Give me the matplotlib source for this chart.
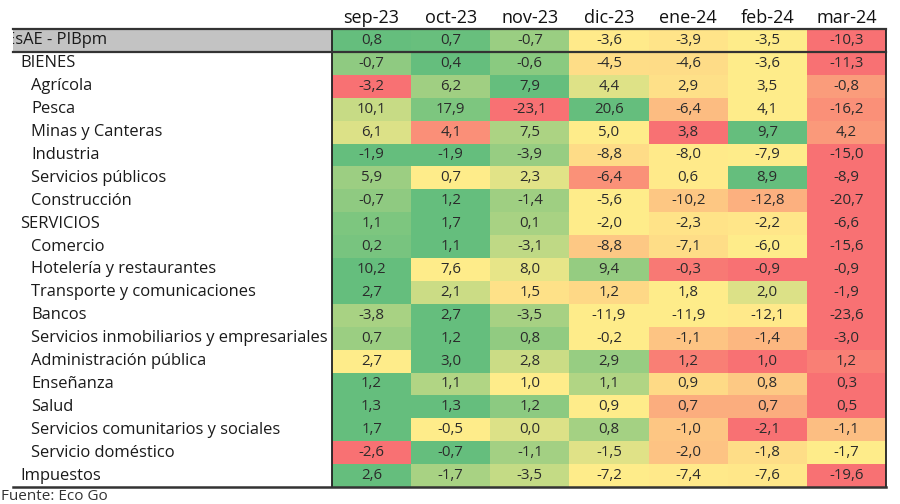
import numpy as np
import matplotlib
matplotlib.use("Agg")
import matplotlib.pyplot as plt
from matplotlib.colors import LinearSegmentedColormap
from matplotlib.patches import Rectangle
from matplotlib.transforms import blended_transform_factory

columns = ["sep-23", "oct-23", "nov-23", "dic-23", "ene-24", "feb-24", "mar-24"]

row_labels = [
    "EsAE - PIBpm", "BIENES", "Agrícola", "Pesca", "Minas y Canteras", "Industria",
    "Servicios públicos", "Construcción", "SERVICIOS", "Comercio",
    "Hotelería y restaurantes", "Transporte y comunicaciones", "Bancos",
    "Servicios inmobiliarios y empresariales", "Administración pública",
    "Enseñanza", "Salud", "Servicios comunitarios y sociales",
    "Servicio doméstico", "Impuestos",
]
row_level = [0, 1, 2, 2, 2, 2, 2, 2, 1, 2, 2, 2, 2, 2, 2, 2, 2, 2, 2, 1]

values = [
    [0.8, 0.7, -0.7, -3.6, -3.9, -3.5, -10.3],
    [-0.7, 0.4, -0.6, -4.5, -4.6, -3.6, -11.3],
    [-3.2, 6.2, 7.9, 4.4, 2.9, 3.5, -0.8],
    [10.1, 17.9, -23.1, 20.6, -6.4, 4.1, -16.2],
    [6.1, 4.1, 7.5, 5.0, 3.8, 9.7, 4.2],
    [-1.9, -1.9, -3.9, -8.8, -8.0, -7.9, -15.0],
    [5.9, 0.7, 2.3, -6.4, 0.6, 8.9, -8.9],
    [-0.7, 1.2, -1.4, -5.6, -10.2, -12.8, -20.7],
    [1.1, 1.7, 0.1, -2.0, -2.3, -2.2, -6.6],
    [0.2, 1.1, -3.1, -8.8, -7.1, -6.0, -15.6],
    [10.2, 7.6, 8.0, 9.4, -0.3, -0.9, -0.9],
    [2.7, 2.1, 1.5, 1.2, 1.8, 2.0, -1.9],
    [-3.8, 2.7, -3.5, -11.9, -11.9, -12.1, -23.6],
    [0.7, 1.2, 0.8, -0.2, -1.1, -1.4, -3.0],
    [2.7, 3.0, 2.8, 2.9, 1.2, 1.0, 1.2],
    [1.2, 1.1, 1.0, 1.1, 0.9, 0.8, 0.3],
    [1.3, 1.3, 1.2, 0.9, 0.7, 0.7, 0.5],
    [1.7, -0.5, 0.0, 0.8, -1.0, -2.1, -1.1],
    [-2.6, -0.7, -1.1, -1.5, -2.0, -1.8, -1.7],
    [2.6, -1.7, -3.5, -7.2, -7.4, -7.6, -19.6],
]

source = "Fuente: Eco Go"

FONT = ["Open Sans", "DejaVu Sans"]
plt.rcParams["font.family"] = FONT
TXT = "#2b2b2b"

data = np.array(values, dtype=float)
nrows, ncols = data.shape

# Excel-like 3-colour scale per row (min -> median -> max)
norm = np.zeros_like(data)
for i, r in enumerate(data):
    lo, mid, hi = r.min(), np.percentile(r, 50), r.max()
    for j, v in enumerate(r):
        if v <= mid:
            norm[i, j] = 0.5 * (v - lo) / (mid - lo) if mid > lo else 0.5
        else:
            norm[i, j] = 0.5 + 0.5 * (v - mid) / (hi - mid) if hi > mid else 0.5
cmap = LinearSegmentedColormap.from_list("ryg", ["#F8696B", "#FFEB84", "#5DBB76"])

W, H = 900, 504
fig = plt.figure(figsize=(9, 5.04), dpi=100)
x0, x1 = 332, 886
y0, y1 = 29, 487
ax = fig.add_axes([x0 / W, 1 - y1 / H, (x1 - x0) / W, (y1 - y0) / H])
ax.pcolormesh(np.arange(ncols + 1), np.arange(nrows + 1), norm, cmap=cmap,
              vmin=0, vmax=1, shading="flat", alpha=0.95)
ax.set_xlim(0, ncols)
ax.set_ylim(nrows, 0)
ax.set_xticks([])
ax.set_yticks([])
for s in ["top", "bottom"]:
    ax.spines[s].set_visible(False)
for s in ["left", "right"]:
    ax.spines[s].set_linewidth(1.3)
    ax.spines[s].set_color("#222222")

for i in range(nrows):
    for j in range(ncols):
        ax.text(j + 0.5, i + 0.5, f"{data[i, j]:.1f}".replace(".", ","),
                ha="center", va="center", fontsize=10.8, color=TXT)

for j, c in enumerate(columns):
    ax.text(j + 0.5, -0.5, c, ha="center", va="center", fontsize=13,
            color="#111111", clip_on=False)

bt = blended_transform_factory(fig.transFigure, ax.transData)
left_px = 13
gray = Rectangle((left_px / W, 0), (x0 - left_px) / W, 1, transform=bt,
                 facecolor="#c3c3c3", edgecolor="none", clip_on=False, zorder=0)
fig.add_artist(gray)

indent = {0: 6, 1: 20, 2: 31}
for i, (lab, lv) in enumerate(zip(row_labels, row_level)):
    t = fig.text(indent[lv] / W, i + 0.5, lab, transform=bt, ha="left",
                 va="center", fontsize=11.9, color="#1a1a1a")
    if i == 0:
        clip = Rectangle((left_px / W, 0), 1, 1, transform=bt)
        t.set_clip_path(clip)

for yy, lw in [(0, 1.6), (1, 1.6), (nrows, 1.8)]:
    fig.add_artist(plt.Line2D([left_px / W, x1 / W], [yy, yy], transform=bt,
                              color="#333333", lw=lw))

fig.text(1 / W, 1 - 496 / H, source, ha="left", va="center", fontsize=11,
         color="#333333")

fig.savefig("out.png", dpi=100, facecolor="white")
